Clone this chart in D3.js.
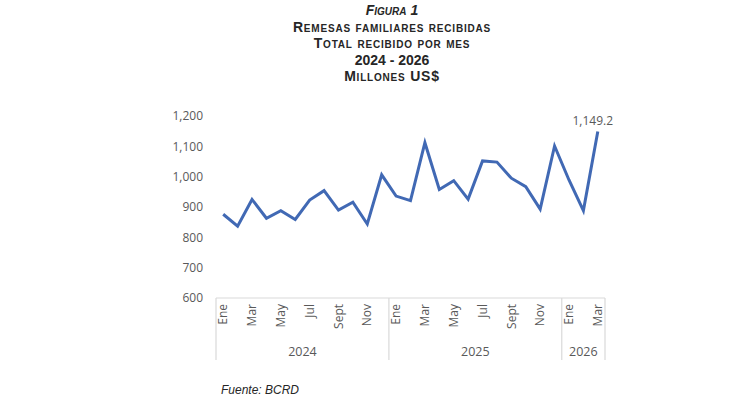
<!DOCTYPE html>
<html>
<head>
<meta charset="utf-8">
<script src="https://cdn.jsdelivr.net/npm/d3@7"></script>
<style>
  body { margin: 0; background: #fff; }
  svg { display: block; }
</style>
</head>
<body>
<div id="chart"></div>
<script>
/* DATA */
const months = ["Ene", "Feb", "Mar", "Abr", "May", "Jun", "Jul", "Ago", "Sept", "Oct", "Nov", "Dic"];
const years = ["2024", "2025", "2026"];
const values2024 = [876, 837, 925, 863, 888, 859, 923, 954, 890, 916, 844, 1006];
const values2025 = [936, 921, 1112, 958, 987, 926, 1052, 1048, 995, 967, 893, 1101];
const values2026 = [989, 888, 1149.2];
const yTicks = [600, 700, 800, 900, 1000, 1100, 1200];
const titleLines = ["Figura 1", "Remesas familiares recibidas", "Total recibido por mes", "2024 - 2026", "Millones US$"];
const source = "Fuente: BCRD";

/* CONSTANTS */
const width = 730,
  height = 400,
  margin = { top: 116, bottom: 102, left: 216, right: 125 };

const lineColor = "#4169b4",
  textGrey = "#595959",
  boxGrey = "#d9d9d9";

// flatten series into one list of points
const data = [];
[values2024, values2025, values2026].forEach((vals, yi) => {
  vals.forEach((v, mi) => {
    data.push({ key: years[yi] + "-" + mi, year: years[yi], month: months[mi], mi: mi, value: v });
  });
});

const svg = d3.select("#chart")
  .append("svg")
  .attr("width", width)
  .attr("height", height);

// + SCALES
const xScale = d3.scaleBand()
  .domain(data.map(d => d.key))
  .range([margin.left, width - margin.right])
  .padding(0);

const yScale = d3.scaleLinear()
  .domain([600, 1200])
  .range([height - margin.bottom, margin.top]);

// + TITLE
const title = svg.append("g")
  .attr("text-anchor", "middle")
  .attr("font-family", "Liberation Sans, Arial, sans-serif")
  .attr("font-weight", "bold")
  .attr("fill", "#262626");

title.selectAll("text")
  .data(titleLines)
  .join("text")
  .attr("x", 392)
  .attr("y", (d, i) => 15 + i * 16.5)
  .attr("font-size", 14)
  .attr("font-style", (d, i) => i === 0 ? "italic" : "normal")
  .attr("letter-spacing", (d, i) => i === 0 || i === 3 ? 0 : 0.8)
  .style("font-variant", (d, i) => i === 3 ? "normal" : "small-caps")
  .text(d => d);

// + Y AXIS (labels only)
const yAxis = d3.axisLeft(yScale)
  .tickValues(yTicks)
  .tickSize(0)
  .tickPadding(0)
  .tickFormat(d3.format(","));

svg.append("g")
  .attr("transform", `translate(${203}, 0)`)
  .call(yAxis)
  .call(g => g.select(".domain").remove())
  .selectAll("text")
    .attr("font-family", "Open Sans, sans-serif")
    .attr("font-size", 12)
    .attr("fill", textGrey);

// + X AXIS (months, rotated)
const xAxis = d3.axisBottom(xScale)
  .tickValues(data.filter(d => d.mi % 2 === 0).map(d => d.key))
  .tickSize(0)
  .tickFormat(k => data.find(d => d.key === k).month);

const baseY = height - margin.bottom;

svg.append("g")
  .attr("transform", `translate(0, ${baseY})`)
  .call(xAxis)
  .call(g => g.select(".domain").remove())
  .selectAll("text")
    .attr("font-family", "Open Sans, sans-serif")
    .attr("font-size", 12)
    .attr("fill", textGrey)
    .attr("text-anchor", "end")
    .attr("dy", "0.35em")
    .attr("transform", "translate(0, 6) rotate(-90)")
    .attr("x", 0)
    .attr("y", 0);

// box: top line + year dividers
const boxBottom = baseY + 62;
svg.append("line")
  .attr("x1", xScale.range()[0]).attr("x2", xScale.range()[1])
  .attr("y1", baseY).attr("y2", baseY)
  .attr("stroke", boxGrey).attr("stroke-width", 1.2);

const yearGroups = years.map(y => {
  const items = data.filter(d => d.year === y);
  return {
    year: y,
    x0: xScale(items[0].key),
    x1: xScale(items[items.length - 1].key) + xScale.bandwidth()
  };
});

svg.selectAll("line.divider")
  .data([yearGroups[0].x0, ...yearGroups.map(g => g.x1)])
  .join("line")
  .attr("class", "divider")
  .attr("x1", d => d).attr("x2", d => d)
  .attr("y1", baseY).attr("y2", boxBottom)
  .attr("stroke", boxGrey).attr("stroke-width", 1.2);

svg.selectAll("text.year")
  .data(yearGroups)
  .join("text")
  .attr("class", "year")
  .attr("x", d => (d.x0 + d.x1) / 2)
  .attr("y", baseY + 58)
  .attr("text-anchor", "middle")
  .attr("font-family", "Open Sans, sans-serif")
  .attr("font-size", 12.5)
  .attr("fill", textGrey)
  .text(d => d.year);

// + LINE
const lineGen = d3.line()
  .x(d => xScale(d.key) + xScale.bandwidth() / 2)
  .y(d => yScale(d.value));

svg.append("path")
  .datum(data)
  .attr("fill", "none")
  .attr("stroke", lineColor)
  .attr("stroke-width", 3)
  .attr("stroke-linejoin", "miter")
  .attr("d", lineGen);

// last value label
const last = data[data.length - 1];
svg.append("text")
  .attr("x", xScale(last.key) + xScale.bandwidth() / 2 - 5)
  .attr("y", yScale(last.value) - 6)
  .attr("text-anchor", "middle")
  .attr("font-family", "Open Sans, sans-serif")
  .attr("font-size", 12)
  .attr("fill", textGrey)
  .text(d3.format(",.1f")(last.value));

// + SOURCE
svg.append("text")
  .attr("x", 221)
  .attr("y", 394)
  .attr("font-family", "Liberation Sans, Arial, sans-serif")
  .attr("font-style", "italic")
  .attr("font-size", 12)
  .attr("fill", "#262626")
  .text(source);
</script>
</body>
</html>
